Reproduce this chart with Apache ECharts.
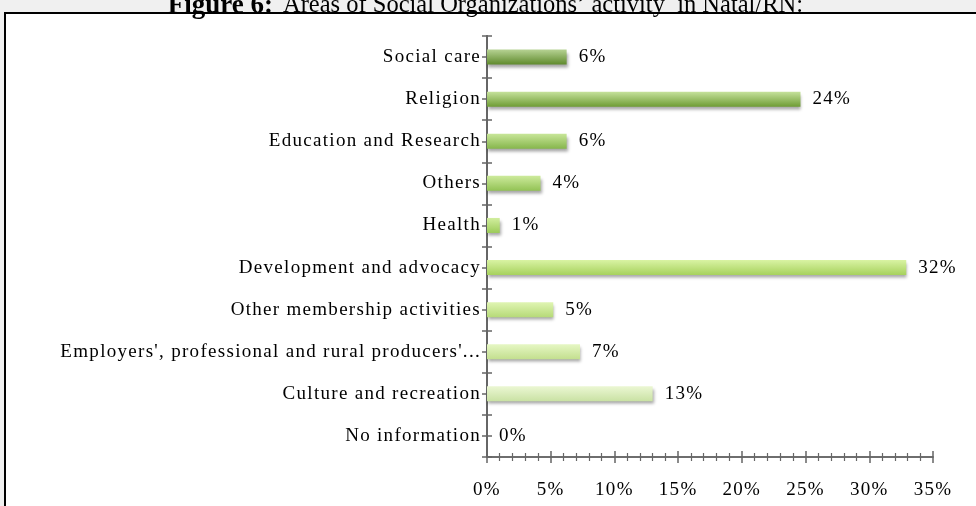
<!DOCTYPE html>
<html>
<head>
<meta charset="utf-8">
<script src="https://cdn.jsdelivr.net/npm/echarts@6/dist/echarts.min.js"></script>
<style>
html,body{margin:0;padding:0;background:#f0f0f0;}
#c{width:976px;height:506px;}
</style>
</head>
<body>
<div id="c"></div>
<script>
// Data
var categories = ["Social care","Religion","Education and Research","Others","Health","Development and advocacy","Other membership activities","Employers', professional and rural producers'...","Culture and recreation","No information"];
var values = [6.25, 24.6, 6.25, 4.2, 1.0, 32.9, 5.2, 7.3, 13.0, 0];
var valueLabels = ["6%","24%","6%","4%","1%","32%","5%","7%","13%","0%"];
var xTicks = [0, 5, 10, 15, 20, 25, 30, 35];
var titleBold = "Figure 6:";
var titleRest = "Areas of Social Organizations\u2019 activity  in Natal/RN:";

// Styles (bar gradient top/bottom colours)
var barColors = [
  ["#b6d293","#5f8a2c"],
  ["#c6e29c","#6f9d35"],
  ["#c8e699","#86b64c"],
  ["#cdea9c","#92c254"],
  ["#d2ee9f","#9ccb58"],
  ["#d9f3a3","#a6d15c"],
  ["#e0f5b3","#b6da78"],
  ["#e6f7c4","#c3df8f"],
  ["#ebf7d3","#c9e1a3"],
  ["#eef8dc","#d0e6b0"]
];

// Letter spacing for the 19px chart texts (the reference uses widely spaced serif text)
(function(){
  var proto = CanvasRenderingContext2D.prototype;
  if (!('letterSpacing' in proto)) return;
  var origFill = proto.fillText, origMeasure = proto.measureText;
  function ls(ctx){ ctx.letterSpacing = /(^|\s)19px/.test(ctx.font) ? '1.3px' : '0px'; }
  proto.fillText = function(){ ls(this); return origFill.apply(this, arguments); };
  proto.measureText = function(){ ls(this); return origMeasure.apply(this, arguments); };
})();

var font = "Liberation Serif";
var fs = 19;
var axisColor = "#666666";

var chart = echarts.init(document.getElementById('c'), null, {renderer:'canvas'});

var barData = values.map(function(v, i){
  return {
    value: v,
    itemStyle: {
      color: new echarts.graphic.LinearGradient(0,0,0,1,[
        {offset:0, color: barColors[i][0]},
        {offset:1, color: barColors[i][1]}
      ])
    },
    label: { formatter: valueLabels[i] }
  };
});

function yAxisCfg(showLabel, inside, align){
  return {
    type:'category', data: categories, inverse:true, position:'left',
    boundaryGap:true,
    axisLine:{show:true, lineStyle:{color:axisColor, width:1.5}},
    axisTick:{show:true, inside:inside, length:5, alignWithLabel:align, lineStyle:{color:axisColor, width:1.5}},
    axisLabel:{show:showLabel, color:'#000', fontFamily:font, fontSize:fs, margin:6},
    splitLine:{show:false}
  };
}
function xAxisCfg(showLabel, inside){
  return {
    type:'value', min:0, max:35, interval:5, position:'bottom',
    axisLine:{show:true, lineStyle:{color:axisColor, width:1.5}},
    axisTick:{show:true, inside:inside, length:6, lineStyle:{color:axisColor, width:1.5}},
    minorTick:{show:true, splitNumber:5, length:4, lineStyle:{color:axisColor, width:1.2}},
    axisLabel:{show:showLabel, color:'#000', fontFamily:font, fontSize:fs, margin:23,
      formatter:function(v){ return xTicks.indexOf(v) >= 0 ? v + '%' : ''; }},
    splitLine:{show:false}
  };
}

chart.setOption({
  animation:false,
  backgroundColor:'#f0f0f0',
  graphic:[
    {type:'rect', z:-10, shape:{x:5, y:13, width:990, height:520},
     style:{fill:'#ffffff', stroke:'#000000', lineWidth:2}},
    {type:'text', z:10, x:273, y:6,
     style:{ text:titleBold, align:'right', verticalAlign:'middle',
       font:"bold 27px Liberation Serif", fill:'#000' }},
    {type:'text', z:10, x:283, y:6,
     style:{ text:titleRest, align:'left', verticalAlign:'middle',
       font:"24.5px Liberation Serif", fill:'#000' }}
  ],
  grid:{left:487, top:36, width:446, height:421, containLabel:false},
  xAxis:[ xAxisCfg(true, false), xAxisCfg(false, true) ],
  yAxis:[ yAxisCfg(true, false, false), yAxisCfg(false, true, false),
          yAxisCfg(false, false, true), yAxisCfg(false, true, true) ],
  series:[{
    type:'bar', xAxisIndex:0, yAxisIndex:0,
    data: barData,
    barWidth:15,
    itemStyle:{shadowColor:'rgba(0,0,0,0.35)', shadowBlur:3, shadowOffsetX:1, shadowOffsetY:3},
    label:{show:true, position:'right', distance:12, color:'#000', fontFamily:font, fontSize:fs}
  }]
});
</script>
</body>
</html>
